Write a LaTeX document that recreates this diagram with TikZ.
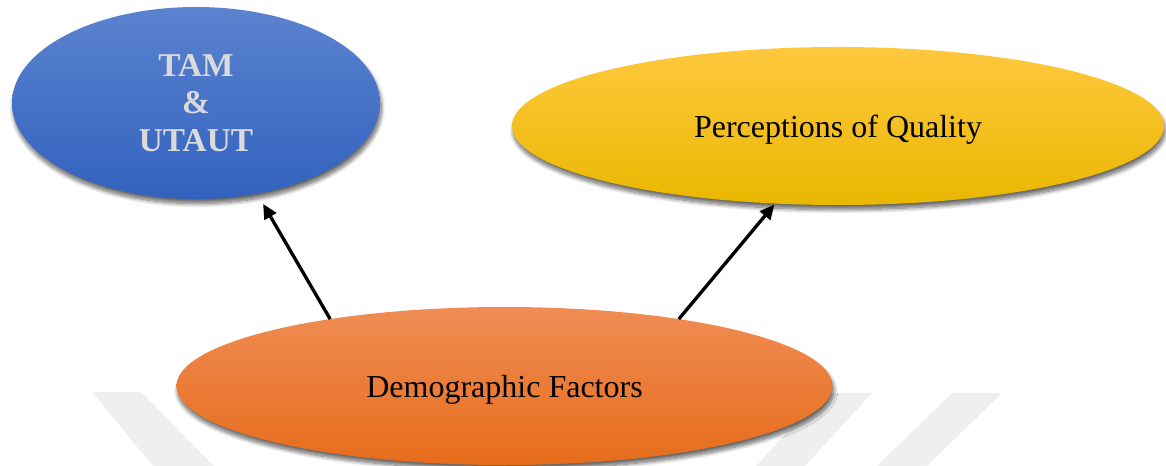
\documentclass[tikz,border=0pt]{standalone}
\usepackage{fontspec}
\setmainfont{Liberation Serif}
\usetikzlibrary{shapes.geometric,arrows.meta,shadows.blur}

\definecolor{tamTop}{HTML}{5B83CF}
\definecolor{tamMid}{HTML}{4673C6}
\definecolor{tamBot}{HTML}{3262BE}
\definecolor{qualTop}{HTML}{FFC83E}
\definecolor{qualMid}{HTML}{FFC000}
\definecolor{qualBot}{HTML}{E9B700}
\definecolor{demoTop}{HTML}{F08C55}
\definecolor{demoMid}{HTML}{F47F2E}
\definecolor{demoBot}{HTML}{E66C1B}
\definecolor{stripegray}{HTML}{EFEFEF}
\definecolor{tamtext}{HTML}{DADADA}

\begin{document}
\begin{tikzpicture}[x=0.75pt,y=-0.75pt,
  oval/.style={ellipse, inner sep=0pt, outer sep=0pt,
    blur shadow={shadow xshift=1pt, shadow yshift=-3.5pt,
      shadow blur radius=3pt, shadow blur steps=10, shadow opacity=60}},
  lbl/.style={font=\fontsize{24}{28}\selectfont, text depth=0pt},
  link/.style={-{Triangle[length=11pt,width=10pt]}, line width=2.5pt, black},
  wmstripe/.style={fill=stripegray}
]
\useasboundingbox (0,0) rectangle (1166,466);

% faint background stripes
\fill[wmstripe] (92,392) -- (141,392) -- (214,466) -- (153,466) -- cycle;
\fill[wmstripe] (823,393) -- (872,393) -- (805,466) -- (756,466) -- cycle;
\fill[wmstripe] (952,393) -- (1002,393) -- (927,466) -- (877,466) -- cycle;

% the three ellipses
\node[oval, minimum width=276pt, minimum height=144pt,
      top color=tamTop, middle color=tamMid, bottom color=tamBot,
      align=center, text=tamtext, font=\bfseries\fontsize{25}{28}\selectfont]
  (tam) at (196,103) {TAM\\\&\\UTAUT};

\node[oval, lbl, minimum width=489pt, minimum height=118.5pt,
      top color=qualTop, middle color=qualMid, bottom color=qualBot]
  (qual) at (838,126) {Perceptions of Quality};

\node[oval, lbl, minimum width=492pt, minimum height=118.5pt,
      top color=demoTop, middle color=demoMid, bottom color=demoBot]
  (dem) at (504.5,386) {Demographic Factors};

% connectors
\draw[link, shorten >=9pt] (dem.159.2) -- (tam.-56);
\draw[link, shorten >=1pt] (dem.21.4) -- (qual.-129);
\end{tikzpicture}
\end{document}
